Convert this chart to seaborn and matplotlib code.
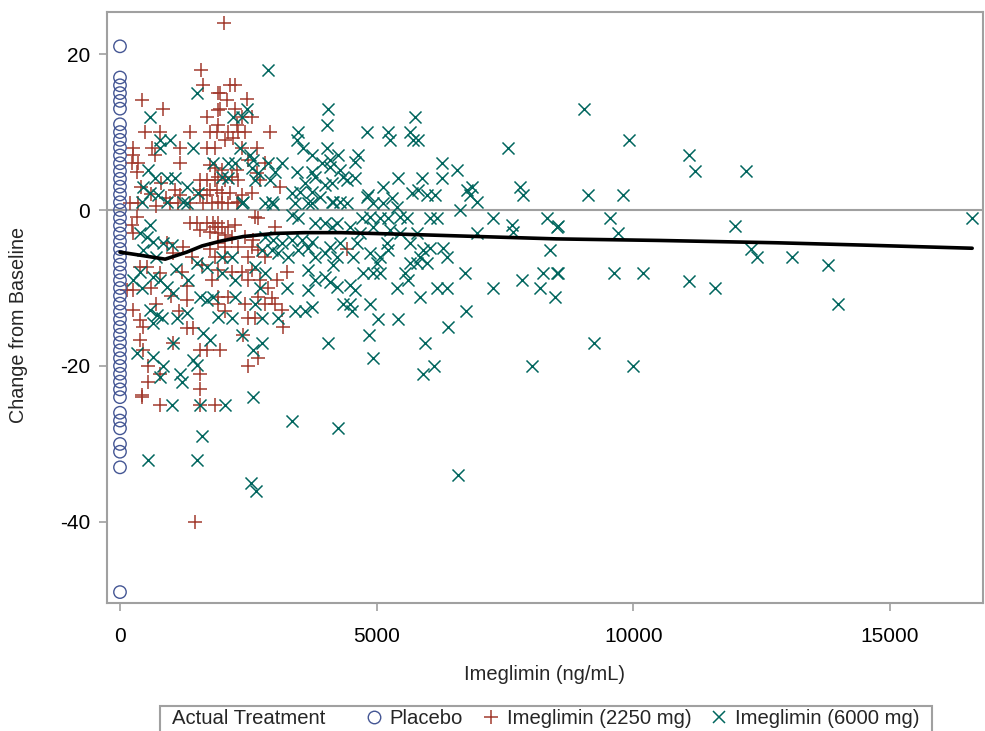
import matplotlib
matplotlib.use('Agg')
import matplotlib.pyplot as plt
from matplotlib.lines import Line2D
from matplotlib.patches import Rectangle
import pandas as pd
import seaborn as sns

# placebo: concentration is 0 for every subject
placebo_y = [21, 17, 16, 15, 14, 13, 11, 10, 9, 8, 7, 6, 5, 4, 3, 2, 1, 0,
             -1, -2, -3, -4, -5, -6, -7, -8, -9, -10, -11, -12, -13, -14, -15,
             -16, -17, -18, -19, -20, -21, -22, -23, -24, -26, -27, -28, -30,
             -31, -33, -49]

# Imeglimin 2250 mg (concentration ng/mL, change from baseline)
dose_2250 = [
    (1580, 17.9), (1620, 16), (1910, 15), (430, 14.1), (840, 12.9), (1690, 11.9),
    (1910, 12.8), (490, 10), (780, 10), (1365, 10), (1750, 10), (1890, 10),
    (250, 8), (620, 8), (1170, 8), (1690, 8), (1850, 8), (250, 7), (680, 7),
    (230, 6), (350, 6), (1170, 6), (1750, 5.8), (330, 4.9), (1560, 3.8),
    (1690, 3.8), (1850, 3.8), (1070, 2.6), (1560, 2.6), (1750, 2.6), (1890, 2.6),
    (1170, 1.9), (1560, 1.9), (1690, 1.9), (195, 0.9), (350, 0.9), (975, 0.9),
    (1130, 0.9), (1365, 0.9), (1620, 0.9), (1790, 0.9), (400, 3), (600, 2),
    (800, 3.5), (900, 1.5), (700, 0.5),
    (330, -0.9), (230, -1.9), (250, -2.9), (1365, -1.7), (1500, -1.7), (1690, -1.7),
    (1810, -1.7), (1910, -1.7), (1560, -2.6), (1750, -2.8), (390, -7.3), (525, -7.3),
    (780, -8.1), (1300, -9.8), (135, -10.3), (250, -10.3), (1300, -11.5),
    (250, -12.8), (390, -14.1), (450, -15), (1300, -15.1), (1420, -15.1),
    (390, -16.7), (450, -18), (1560, -18), (1690, -18), (1030, -17), (545, -20),
    (780, -21), (1560, -21), (545, -22), (1560, -23), (430, -23.7), (915, -4.2),
    (1030, -5.5), (1230, -4.7), (1750, -5), (1850, -6), (1600, -7), (1400, -6),
    (1200, -8), (1000, -11), (700, -12), (600, -10), (1150, -13), (1800, -9),
    (1900, -12), (430, -24), (780, -25), (1560, -25), (1850, -25), (1460, -40),
    (2030, 24), (2140, 16), (2240, 16), (1950, 15), (2080, 14.1), (2470, 14.2),
    (1950, 13), (2240, 13), (2380, 11.9), (2570, 11.9), (2280, 10.9), (1910, 10.9),
    (2100, 10), (2300, 10), (2440, 10), (2920, 10), (2050, 9), (2200, 9.2),
    (2670, 8), (2380, 8), (2500, 6.4), (2830, 6), (1850, 5.4), (1990, 5.1),
    (2280, 5.1), (1910, 4.2), (2050, 3.8), (2180, 4.2), (2300, 3.8), (2670, 4.7),
    (2730, 3.8), (3120, 2.9), (1990, 2.2), (2140, 2.2), (2380, 1.9), (2570, 2.2),
    (1910, 1), (2100, 0.9), (2300, 1), (1990, 0.9), (2280, 0.9),
    (1850, -2.2), (1990, -2.2), (2100, -2.2), (2240, -1.9), (2630, -0.9), (2690, -1),
    (3020, -2.2), (1910, -2.9), (2050, -3.2), (2180, -3.4), (2440, -3.4), (2590, -3.8),
    (1910, -4.2), (2050, -4.7), (2300, -4.7), (2570, -4.7), (2690, -5.1), (2050, -6),
    (2500, -6), (2830, -6), (1910, -7.7), (2180, -7.9), (2380, -7.9), (2570, -7.7),
    (3250, -7.9), (2500, -9), (2730, -9), (3060, -9), (2890, -10), (1910, -11.1),
    (2100, -11.1), (2690, -11.1), (2960, -11.3), (2440, -12), (2830, -12), (3020, -12),
    (3160, -12.8), (2050, -13), (2500, -13.9), (2630, -13.9), (3180, -15), (2400, -16),
    (1950, -18), (2690, -19), (2500, -20), (4420, -5),
]

# Imeglimin 6000 mg
dose_6000 = [
    (1500, 15), (585, 11.9), (780, 9), (975, 9), (780, 8), (1420, 8), (1810, 6),
    (545, 5.1), (450, 2.9), (680, 4.1), (915, 4.1), (1070, 4.1), (585, 2.2),
    (740, 1.9), (1300, 2.9), (1520, 2.2), (430, 1), (915, 1), (1230, 1), (1300, 0.9),
    (585, -1.9), (390, -2.9), (525, -3.4), (645, -4.1), (840, -4.2), (1010, -4.5),
    (450, -5.1), (1500, -6.8), (1690, -7.3), (390, -7.9), (250, -9), (645, -8.6),
    (780, -9), (1330, -9), (430, -10), (915, -9.9), (1030, -10.7), (1560, -11.1),
    (1690, -11.5), (1810, -11.1), (585, -12.8), (720, -13.5), (820, -13.8),
    (645, -14.5), (1110, -13.8), (1300, -13.2), (1620, -15.8), (1750, -16.7),
    (1030, -17), (330, -18.3), (645, -18.8), (1420, -19.2), (840, -20), (780, -21.4),
    (1170, -21), (1210, -22), (1500, -19.9), (700, -6), (1100, -7.5),
    (1010, -25), (1560, -25), (1600, -29), (545, -32), (1500, -32),
    (2890, 18), (2470, 13), (2200, 11.9), (2380, 11.9), (4050, 13), (4030, 10.9),
    (3470, 10), (3450, 9), (3570, 8), (2340, 8), (4030, 8), (3740, 7), (2530, 7),
    (2590, 6.4), (2100, 6), (2240, 6), (2890, 6), (3160, 6), (3930, 6), (4090, 5.5),
    (2570, 5.4), (2690, 4.7), (3020, 4.9), (3450, 4.9), (3740, 4.9), (3800, 4.2),
    (1990, 4.2), (2100, 4.1), (2630, 3.8), (2920, 3.8), (3600, 3.5), (4000, 3.2),
    (4130, 3.5), (3350, 2.2), (3510, 2.3), (3740, 2.3), (3900, 1.7), (2400, 1),
    (2830, 0.9), (2960, 1), (3670, 0.9), (4130, 1),
    (2380, 0.9), (2980, 0.8), (3410, 0.9), (3740, 0.9), (3350, -0.6), (3470, -1),
    (3800, -1.7), (4000, -1.7), (4130, -2.2), (2830, -3.4), (2980, -3.8), (3160, -4.2),
    (3350, -3.8), (3550, -3.8), (3740, -4.1), (2770, -5.1), (2960, -5.1), (3080, -5.5),
    (3270, -6), (3470, -5.1), (3670, -4.9), (3800, -6), (4000, -5.5), (1990, -6),
    (2180, -6), (2630, -7.3), (2830, -8.1), (3670, -7.7), (3800, -9), (4000, -8.6),
    (4090, -9.2), (1990, -8.1), (2240, -9), (2730, -10), (3250, -10), (3670, -10.3),
    (2240, -11.1), (2630, -12), (3410, -13), (3600, -13), (3740, -12.4), (1910, -13.7),
    (2180, -13.9), (2770, -13.9), (3080, -13.9), (2380, -16), (2770, -17), (2590, -18),
    (4050, -17), (2590, -24), (2050, -25), (3350, -27), (2550, -35), (2650, -36),
    (5750, 11.9), (4810, 10), (5220, 10), (5260, 9), (5650, 10), (5810, 9), (5710, 9),
    (7560, 8), (4250, 7), (4640, 7), (4580, 6.2), (4090, 6.4), (4290, 5.1), (4340, 4.2),
    (4420, 3.8), (6270, 6), (6560, 5.1), (4580, 4.1), (5420, 4.1), (5880, 4.1),
    (6270, 4.1), (5120, 2.9), (4830, 1.9), (5690, 2.2), (5810, 2.6), (5980, 1.9),
    (6140, 1.9), (6760, 2.6), (6860, 2.9), (6820, 1.9), (6950, 1), (7790, 2.9),
    (7850, 1.9), (4150, 1), (4290, 1), (4420, 0.9), (4810, 1.7), (4930, 0.9),
    (5120, 0.9), (5300, 1.5), (5400, 0.4), (6620, 0), (4710, -1), (4870, -0.9),
    (5060, -1), (5220, -1), (5460, -0.9), (5590, -1), (6040, -1), (6180, -1),
    (7270, -1), (7640, -1.9), (7660, -2.8), (8320, -1), (8510, -2.2), (4230, -1.7),
    (4480, -2.2), (4680, -2.9), (4930, -2.2), (5260, -2.6), (5460, -2.9), (5790, -2.9),
    (6950, -2.9), (4290, -4.2), (4620, -4.2), (5200, -4.2), (5650, -4.2), (4090, -4.7),
    (5900, -5.1), (6040, -4.9), (6290, -4.9), (8380, -5.1), (4230, -6), (4540, -6),
    (4870, -5.5), (5060, -6), (5220, -5.1), (6370, -6), (5850, -6), (5790, -6.8),
    (5980, -6.8), (5010, -6.8), (5650, -6.8), (4150, -7), (4730, -8.1), (4930, -8.1),
    (5060, -8.1), (5550, -8.1), (6720, -8.1), (7830, -9), (8240, -8.1), (8510, -8.1),
    (5610, -9), (4230, -9.9), (4480, -9.6), (4580, -10.3), (5400, -10), (6180, -10),
    (6370, -10), (7270, -10), (8180, -10), (8470, -11.1), (5850, -11.1), (4340, -12),
    (4480, -12), (4870, -12), (4520, -13), (5030, -14), (5420, -14), (4850, -16),
    (5940, -17), (6390, -15), (6740, -13), (4930, -19), (6120, -20), (5900, -21),
    (8030, -20), (4250, -28), (6590, -34),
    (9040, 13), (9920, 9), (11080, 7), (11200, 5), (12190, 5), (9120, 1.9), (9800, 1.9),
    (9550, -1), (9700, -2.9), (11980, -2), (8530, -2), (12290, -5), (12410, -6),
    (8530, -8.1), (9620, -8.1), (10190, -8.1), (11080, -9.1), (11590, -10),
    (9230, -17), (9990, -20), (16600, -1), (13090, -6), (13790, -7), (13990, -12),
]

# smoothed fit
smooth_x = [0, 400, 880, 1300, 1600, 1950, 2400, 3000, 3600, 4300, 5500, 7000,
            8500, 10500, 12800, 14500, 16600]
smooth_y = [-5.4, -5.8, -6.3, -5.4, -4.6, -4.0, -3.4, -3.0, -2.9, -2.9, -3.1, -3.4,
            -3.7, -3.9, -4.2, -4.5, -4.9]

blue = '#445694'
red = '#A23A2E'
teal = '#01665E'
frame = '#a0a0a0'

sns.set_style('white')
plt.rcParams['font.family'] = ['Liberation Sans', 'DejaVu Sans']
plt.rcParams['axes.unicode_minus'] = False

placebo = pd.DataFrame({'conc': [0] * len(placebo_y), 'chg': placebo_y})
low = pd.DataFrame(dose_2250, columns=['conc', 'chg'])
high = pd.DataFrame(dose_6000, columns=['conc', 'chg'])

fig = plt.figure(figsize=(9.85, 7.31), dpi=100)
ax = fig.add_axes([107 / 985, 1 - 603 / 731, 876 / 985, 591 / 731])

ax.axhline(0, color=frame, lw=1.5, zorder=1)
sns.scatterplot(data=low, x='conc', y='chg', marker='+', s=100, color=red,
                linewidth=1.1, ax=ax, zorder=2)
sns.scatterplot(data=high, x='conc', y='chg', marker='x', s=75, color=teal,
                linewidth=1.1, ax=ax, zorder=3)
sns.scatterplot(data=placebo, x='conc', y='chg', marker='o', s=80,
                facecolor='none', edgecolor=blue, linewidth=1, ax=ax, zorder=3)
sns.lineplot(x=smooth_x, y=smooth_y, color='black', lw=2.6, estimator=None,
             ax=ax, zorder=4)

ax.set_xlim(-253, 16811)
ax.set_ylim(-50.4, 25.4)
ax.set_xticks([0, 5000, 10000, 15000])
ax.set_yticks([-40, -20, 0, 20])
ax.tick_params(axis='both', direction='out', length=6, width=1.2, color=frame,
               labelsize=15, labelcolor='black', bottom=True, left=True)
ax.tick_params(axis='x', pad=11)
ax.tick_params(axis='y', pad=6)
for sp in ax.spines.values():
    sp.set_color(frame)
    sp.set_linewidth(1.5)

ax.set_xlabel('Imeglimin (ng/mL)', fontsize=14.5)
ax.set_ylabel('Change from Baseline', fontsize=14.2)
ax.xaxis.set_label_coords(0.5, -0.105)
ax.yaxis.set_label_coords(-0.09, 0.47)

# legend strip at the bottom
fig.add_artist(Rectangle((160 / 985, -0.02), 772 / 985, 0.02 + 1 - 706 / 731,
                         transform=fig.transFigure, fill=False,
                         edgecolor=frame, lw=1.5))
fig.text(172 / 985, 1 - 719 / 731, 'Actual Treatment', fontsize=14.6, va='center')
handles = [
    Line2D([], [], ls='none', marker='o', ms=9, mfc='none', mec=blue, mew=1),
    Line2D([], [], ls='none', marker='+', ms=10, color=red, mew=1.1),
    Line2D([], [], ls='none', marker='x', ms=9, color=teal, mew=1.1),
]
fig.legend(handles, ['Placebo', 'Imeglimin (2250 mg)', 'Imeglimin (6000 mg)'],
           loc='center left', bbox_to_anchor=(366 / 985, 1 - 719 / 731),
           ncol=3, frameon=False, fontsize=14.6, borderpad=0, borderaxespad=0,
           handlelength=0.8, handletextpad=0.37, columnspacing=0.98)

fig.savefig('out.png', dpi=100)
